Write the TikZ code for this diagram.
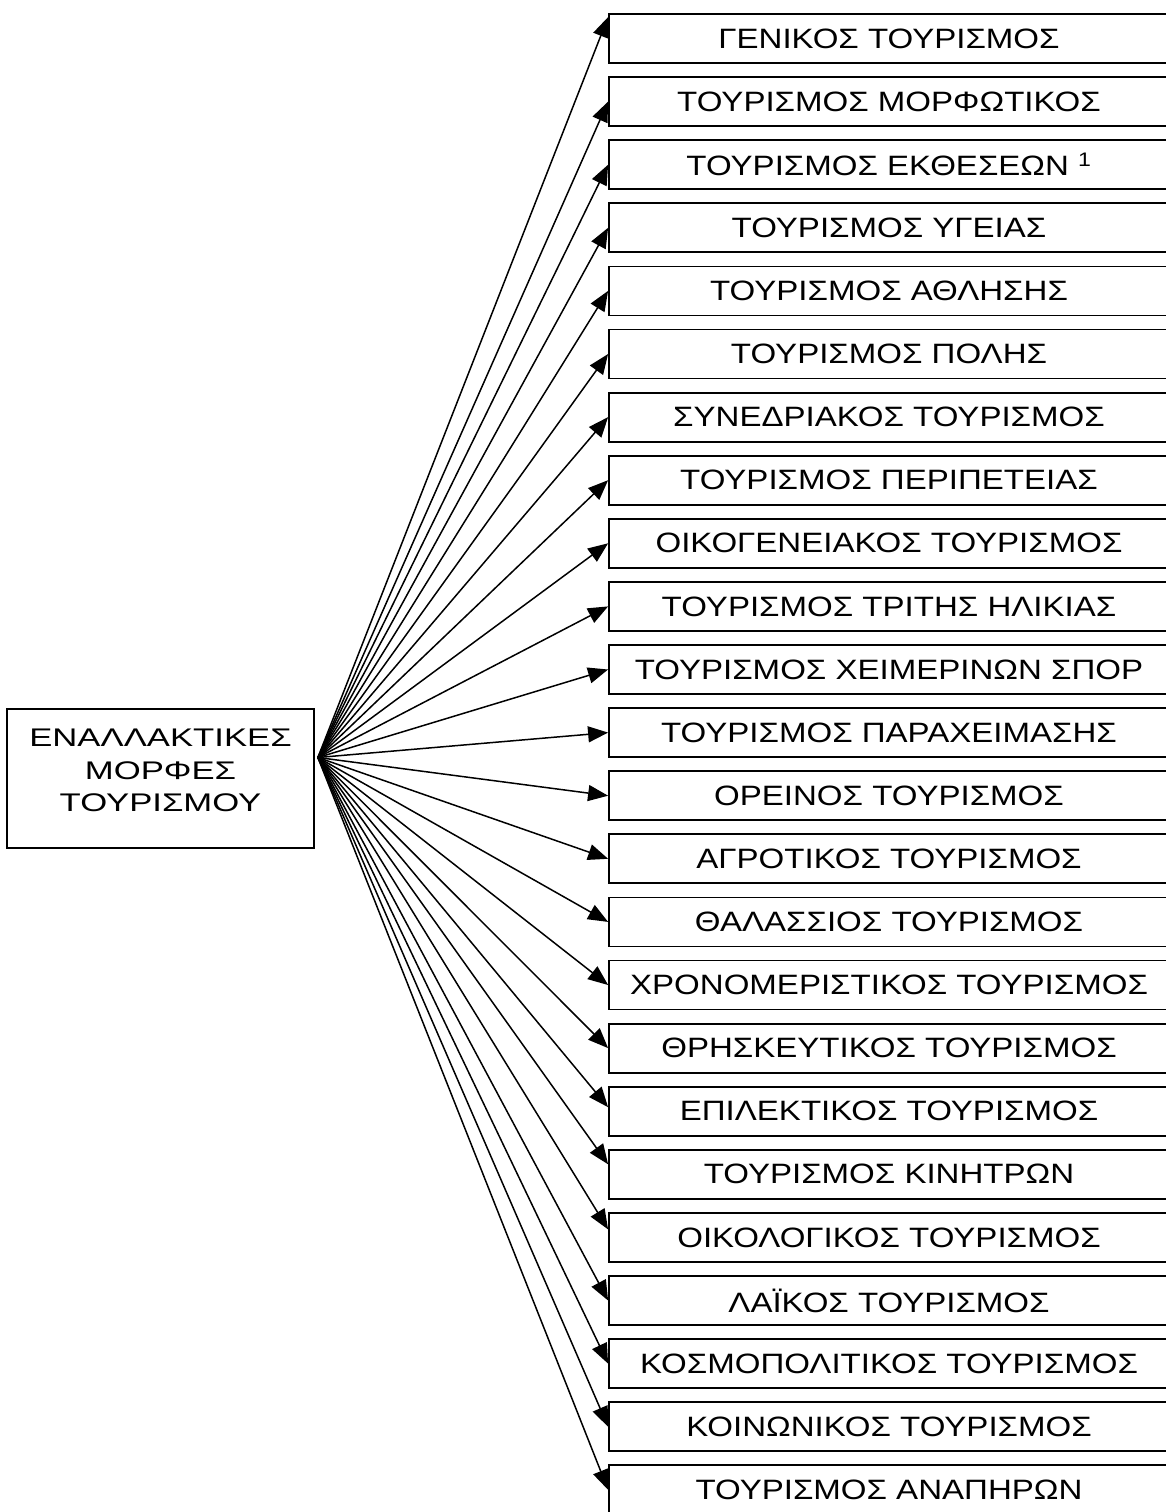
\documentclass[tikz,border=0pt]{standalone}
\usepackage{fontspec}
\setmainfont{Liberation Sans}[FakeStretch=1.18]
\newfontfamily\hubfont{Liberation Sans}[FakeStretch=1.36]
\usetikzlibrary{positioning,arrows.meta}

\begin{document}
\begin{tikzpicture}[x=1pt,y=-1pt,node distance=12.3pt,
typeb/.style={
  draw=black,
  line width=1.8pt,
  minimum width=560pt,
  minimum height=49pt,
  inner sep=0pt,
  font={\fontsize{28}{32}\selectfont}},
mainb/.style={
  draw=black,
  line width=1.8pt,
  minimum width=307pt,
  minimum height=139pt,
  text width=300pt,
  align=center,
  text depth=81pt,
  font={\hubfont\fontsize{25.5}{32.5}\selectfont}},
arr/.style={line width=1.5pt,-{Triangle[length=20pt,width=16pt]}},
]
\useasboundingbox (0,0) rectangle (1166,1512);
\clip (0,0) rectangle (1166,1512);
\node[mainb] (Alt) at (160.5,778.5) {ΕΝΑΛΛΑΚΤΙΚΕΣ\\ΜΟΡΦΕΣ\\ΤΟΥΡΙΣΜΟΥ};
\coordinate (hub) at ([xshift=3pt,yshift=21pt]Alt.east);
\node[typeb] (Gen) at (889,38.5) {ΓΕΝΙΚΟΣ ΤΟΥΡΙΣΜΟΣ};
\node[typeb,below=of Gen] (Mor) {ΤΟΥΡΙΣΜΟΣ ΜΟΡΦΩΤΙΚΟΣ};
\node[typeb,below=of Mor] (Ekt) {ΤΟΥΡΙΣΜΟΣ ΕΚΘΕΣΕΩΝ \textsuperscript{1}};
\node[typeb,below=of Ekt] (Yge) {ΤΟΥΡΙΣΜΟΣ ΥΓΕΙΑΣ};
\node[typeb,below=of Yge] (Ath) {ΤΟΥΡΙΣΜΟΣ ΑΘΛΗΣΗΣ};
\node[typeb,below=of Ath] (Pol) {ΤΟΥΡΙΣΜΟΣ ΠΟΛΗΣ};
\node[typeb,below=of Pol] (Syn) {ΣΥΝΕΔΡΙΑΚΟΣ ΤΟΥΡΙΣΜΟΣ};
\node[typeb,below=of Syn] (Per) {ΤΟΥΡΙΣΜΟΣ ΠΕΡΙΠΕΤΕΙΑΣ};
\node[typeb,below=of Per] (Oik) {ΟΙΚΟΓΕΝΕΙΑΚΟΣ ΤΟΥΡΙΣΜΟΣ};
\node[typeb,below=of Oik] (Tri) {ΤΟΥΡΙΣΜΟΣ ΤΡΙΤΗΣ ΗΛΙΚΙΑΣ};
\node[typeb,below=of Tri] (Xei) {ΤΟΥΡΙΣΜΟΣ ΧΕΙΜΕΡΙΝΩΝ ΣΠΟΡ};
\node[typeb,below=of Xei] (Par) {ΤΟΥΡΙΣΜΟΣ ΠΑΡΑΧΕΙΜΑΣΗΣ};
\node[typeb,below=of Par] (Ore) {ΟΡΕΙΝΟΣ ΤΟΥΡΙΣΜΟΣ};
\node[typeb,below=of Ore] (Agr) {ΑΓΡΟΤΙΚΟΣ ΤΟΥΡΙΣΜΟΣ};
\node[typeb,below=of Agr] (Tha) {ΘΑΛΑΣΣΙΟΣ ΤΟΥΡΙΣΜΟΣ};
\node[typeb,below=of Tha] (Xro) {ΧΡΟΝΟΜΕΡΙΣΤΙΚΟΣ ΤΟΥΡΙΣΜΟΣ};
\node[typeb,below=of Xro] (Thr) {ΘΡΗΣΚΕΥΤΙΚΟΣ ΤΟΥΡΙΣΜΟΣ};
\node[typeb,below=of Thr] (Epi) {ΕΠΙΛΕΚΤΙΚΟΣ ΤΟΥΡΙΣΜΟΣ};
\node[typeb,below=of Epi] (Kin) {ΤΟΥΡΙΣΜΟΣ ΚΙΝΗΤΡΩΝ};
\node[typeb,below=of Kin] (Eco) {ΟΙΚΟΛΟΓΙΚΟΣ ΤΟΥΡΙΣΜΟΣ};
\node[typeb,below=of Eco] (Lai) {ΛΑΪΚΟΣ ΤΟΥΡΙΣΜΟΣ};
\node[typeb,below=of Lai] (Kos) {ΚΟΣΜΟΠΟΛΙΤΙΚΟΣ ΤΟΥΡΙΣΜΟΣ};
\node[typeb,below=of Kos] (Koi) {ΚΟΙΝΩΝΙΚΟΣ ΤΟΥΡΙΣΜΟΣ};
\node[typeb,below=of Koi] (Ana) {ΤΟΥΡΙΣΜΟΣ ΑΝΑΠΗΡΩΝ};
% fan of arrows
\draw[arr] (hub) -- ([yshift=-4pt]Gen.north west);
\draw[arr] (hub) -- (Mor.west);
\draw[arr] (hub) -- (Ekt.west);
\draw[arr] (hub) -- (Yge.west);
\draw[arr] (hub) -- (Ath.west);
\draw[arr] (hub) -- (Pol.west);
\draw[arr] (hub) -- (Syn.west);
\draw[arr] (hub) -- (Per.west);
\draw[arr] (hub) -- (Oik.west);
\draw[arr] (hub) -- (Tri.west);
\draw[arr] (hub) -- (Xei.west);
\draw[arr] (hub) -- (Par.west);
\draw[arr] (hub) -- (Ore.west);
\draw[arr] (hub) -- (Agr.west);
\draw[arr] (hub) -- (Tha.west);
\draw[arr] (hub) -- (Xro.west);
\draw[arr] (hub) -- (Thr.west);
\draw[arr] (hub) -- ([yshift=4pt]Epi.west);
\draw[arr] (hub) -- ([yshift=10pt]Kin.west);
\draw[arr] (hub) -- ([yshift=8pt]Eco.west);
\draw[arr] (hub) -- (Lai.west);
\draw[arr] (hub) -- (Kos.west);
\draw[arr] (hub) -- (Koi.west);
\draw[arr] (hub) -- (Ana.west);
\end{tikzpicture}
\end{document}
